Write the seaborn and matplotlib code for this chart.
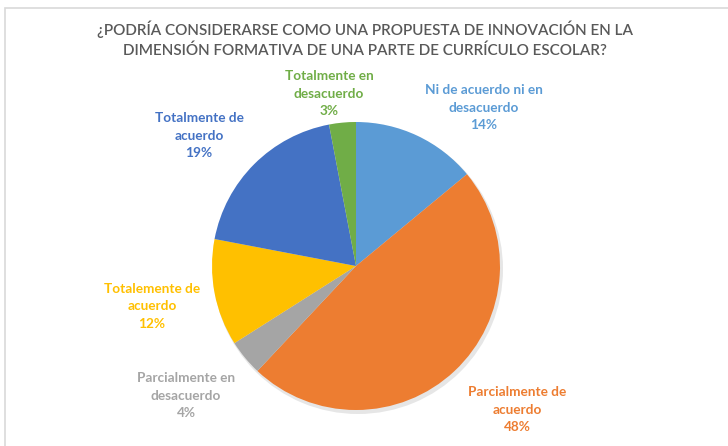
import matplotlib
matplotlib.use("Agg")
import matplotlib.pyplot as plt
import seaborn as sns
from matplotlib.patches import Rectangle

# data (clockwise from 12 o'clock)
labels = ["Ni de acuerdo ni en\ndesacuerdo", "Parcialmente de\nacuerdo",
          "Parcialmente en\ndesacuerdo", "Totalemente de\nacuerdo",
          "Totalmente de\nacuerdo", "Totalmente en\ndesacuerdo"]
values = [14, 48, 4, 12, 19, 3]
colors = ["#5B9BD5", "#ED7D31", "#A5A5A5", "#FFC000", "#4472C4", "#70AD47"]
# label centers in pixels (x, y of first line, from top)
label_pos = [(484, 84), (517, 386), (186, 372), (152, 283), (199, 112), (329, 70)]

title = ("¿PODRÍA CONSIDERARSE COMO UNA PROPUESTA DE INNOVACIÓN EN LA\n"
         "DIMENSIÓN FORMATIVA DE UNA PARTE DE CURRÍCULO ESCOLAR?")

sns.set_theme(style="white")
plt.rcParams['font.family'] = ['Lato', 'DejaVu Sans']

W, H = 728, 446
fig = plt.figure(figsize=(W / 100, H / 100), dpi=100)
ax = fig.add_axes([0, 0, 1, 1])
ax.set_xlim(0, W)
ax.set_ylim(0, H)
ax.set_aspect("equal")
ax.axis("off")

# chart border (only top/left visible in the crop)
ax.add_patch(Rectangle((5, -10), W + 20, H - 8 + 10, fill=False,
                       edgecolor="#D9D9D9", linewidth=1.2))

# soft shadow
ax.pie([1], colors=["#E6E6E6"], center=(358, H - 269), radius=145,
       wedgeprops=dict(linewidth=0))
ax.pie(values, colors=colors, startangle=90, counterclock=False,
       center=(356, H - 266), radius=144,
       wedgeprops=dict(linewidth=0))
ax.set_xlim(0, W)
ax.set_ylim(0, H)

for lab, v, c, (x, y) in zip(labels, values, colors, label_pos):
    ax.text(x, H - y, f"{lab}\n{v}%", color=c, fontsize=9.8, fontweight="bold",
            ha="center", va="top", linespacing=1.55)

ax.text(365, H - 21, title, color="#595959", fontsize=11, fontweight="semibold",
        ha="center", va="top", linespacing=1.45)

fig.savefig("out.png", dpi=100)
